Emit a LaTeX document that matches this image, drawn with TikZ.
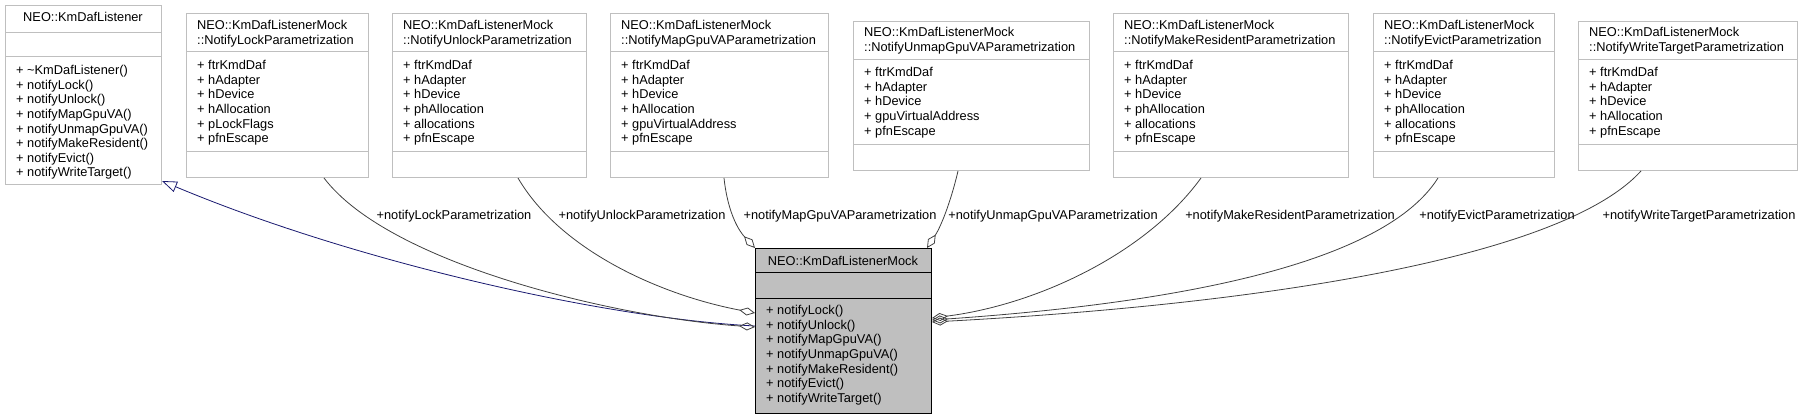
\documentclass[tikz,border=0pt]{standalone}
\usepackage{fontspec}
\setmainfont{Liberation Sans}
\usepackage{tikz}
\usetikzlibrary{arrows.meta}

\definecolor{boxgray}{HTML}{BFBFBF}
\definecolor{edgegray}{HTML}{404040}
\definecolor{inhblue}{HTML}{191970}

\begin{document}
\begin{tikzpicture}[x=1pt, y=-1pt,
    every node/.style={font=\fontsize{12.8}{14.6}\selectfont, inner sep=0pt},
    cls/.style={draw=boxgray, line width=1pt, fill=white, anchor=north west},
    mockcls/.style={draw=black, line width=1pt, fill=boxgray, anchor=north west},
    sepline/.style={boxgray, line width=1pt},
    txt/.style={anchor=north west, align=left},
    uses/.style={edgegray, line width=0.8pt, -{Diamond[open, length=16pt, width=8pt]}},
    inherit/.style={inhblue, line width=0.8pt, {Triangle[open, length=15pt, width=11pt]}-}]
    \useasboundingbox (0,0) rectangle (1805,419);

    % Base class
    \node[cls, minimum width=156, minimum height=179] (lsn) at (5,5) {};
    \draw[sepline] (5,33) -- (161,33);
    \draw[sepline] (5,57) -- (161,57);
    \node (lsntitle) at (83,17) {NEO::KmDafListener};
    \node[txt] (lsnops) at (16,65.3) {+ \textasciitilde KmDafListener()\\+ notifyLock()\\+ notifyUnlock()\\+ notifyMapGpuVA()\\+ notifyUnmapGpuVA()\\+ notifyMakeResident()\\+ notifyEvict()\\+ notifyWriteTarget()};

    % Parametrization structs
    \node[cls, minimum width=182, minimum height=164] (lock) at (186,13) {};
    \draw[sepline] (186,52) -- (368,52);
    \draw[sepline] (186,152) -- (368,152);
    \node[txt] (locktitle) at (197,20.3) {NEO::KmDafListenerMock\\::NotifyLockParametrization};
    \node[txt] (lockattr) at (197,60.3) {+ ftrKmdDaf\\+ hAdapter\\+ hDevice\\+ hAllocation\\+ pLockFlags\\+ pfnEscape};

    \node[cls, minimum width=194, minimum height=164] (unlock) at (392,13) {};
    \draw[sepline] (392,52) -- (586,52);
    \draw[sepline] (392,152) -- (586,152);
    \node[txt] (unlocktitle) at (403,20.3) {NEO::KmDafListenerMock\\::NotifyUnlockParametrization};
    \node[txt] (unlockattr) at (403,60.3) {+ ftrKmdDaf\\+ hAdapter\\+ hDevice\\+ phAllocation\\+ allocations\\+ pfnEscape};

    \node[cls, minimum width=218, minimum height=164] (mapva) at (610,13) {};
    \draw[sepline] (610,52) -- (828,52);
    \draw[sepline] (610,152) -- (828,152);
    \node[txt] (mapvatitle) at (621,20.3) {NEO::KmDafListenerMock\\::NotifyMapGpuVAParametrization};
    \node[txt] (mapvaattr) at (621,60.3) {+ ftrKmdDaf\\+ hAdapter\\+ hDevice\\+ hAllocation\\+ gpuVirtualAddress\\+ pfnEscape};

    \node[cls, minimum width=236, minimum height=149] (unmapva) at (853,21) {};
    \draw[sepline] (853,60) -- (1089,60);
    \draw[sepline] (853,145) -- (1089,145);
    \node[txt] (unmapvatitle) at (864,27.3) {NEO::KmDafListenerMock\\::NotifyUnmapGpuVAParametrization};
    \node[txt] (unmapvaattr) at (864,67.3) {+ ftrKmdDaf\\+ hAdapter\\+ hDevice\\+ gpuVirtualAddress\\+ pfnEscape};

    \node[cls, minimum width=235, minimum height=164] (makeres) at (1113,13) {};
    \draw[sepline] (1113,52) -- (1348,52);
    \draw[sepline] (1113,152) -- (1348,152);
    \node[txt] (makerestitle) at (1124,20.3) {NEO::KmDafListenerMock\\::NotifyMakeResidentParametrization};
    \node[txt] (makeresattr) at (1124,60.3) {+ ftrKmdDaf\\+ hAdapter\\+ hDevice\\+ phAllocation\\+ allocations\\+ pfnEscape};

    \node[cls, minimum width=181, minimum height=164] (evict) at (1373,13) {};
    \draw[sepline] (1373,52) -- (1554,52);
    \draw[sepline] (1373,152) -- (1554,152);
    \node[txt] (evicttitle) at (1384,20.3) {NEO::KmDafListenerMock\\::NotifyEvictParametrization};
    \node[txt] (evictattr) at (1384,60.3) {+ ftrKmdDaf\\+ hAdapter\\+ hDevice\\+ phAllocation\\+ allocations\\+ pfnEscape};

    \node[cls, minimum width=219, minimum height=149] (wrtarget) at (1578,21) {};
    \draw[sepline] (1578,60) -- (1797,60);
    \draw[sepline] (1578,145) -- (1797,145);
    \node[txt] (wrtargettitle) at (1589,27.3) {NEO::KmDafListenerMock\\::NotifyWriteTargetParametrization};
    \node[txt] (wrtargetattr) at (1589,67.3) {+ ftrKmdDaf\\+ hAdapter\\+ hDevice\\+ hAllocation\\+ pfnEscape};

    % Mock class
    \node[mockcls, minimum width=176, minimum height=165] (mock) at (755,248) {};
    \draw[line width=1pt] (755,273) -- (931,273);
    \draw[line width=1pt] (755,299) -- (931,299);
    \node (mocktitle) at (843,261) {NEO::KmDafListenerMock};
    \node[txt] (mockops) at (766,305.3) {+ notifyLock()\\+ notifyUnlock()\\+ notifyMapGpuVA()\\+ notifyUnmapGpuVA()\\+ notifyMakeResident()\\+ notifyEvict()\\+ notifyWriteTarget()};

    % Inheritance
    \draw[inherit] ([yshift=4pt]lsn.south east) .. controls (350,260) and (600,318) .. ([yshift=-78pt]mock.north west);

    % Members
    \draw[uses] ([xshift=138pt]lock.south west) .. controls (390,265) and (620,318) .. ([yshift=-79pt]mock.north west);
    \draw[uses] ([xshift=126pt]unlock.south west) .. controls (560,250) and (660,295) .. ([yshift=-65pt]mock.north west);
    \draw[uses] ([xshift=114pt]mapva.south west) .. controls (728,215) and (740,232) .. (mock.north west);
    \draw[uses] ([xshift=105pt]unmapva.south west) .. controls (950,205) and (940,228) .. ([xshift=-5pt]mock.north east);
    \draw[uses] ([xshift=88pt]makeres.south west) .. controls (1145,255) and (1035,305) .. ([yshift=-70pt]mock.north east);
    \draw[uses] ([xshift=65pt]evict.south west) .. controls (1380,270) and (1150,305) .. ([yshift=-72pt]mock.north east);
    \draw[uses] ([xshift=63pt]wrtarget.south west) .. controls (1560,260) and (1250,305) .. ([yshift=-74pt]mock.north east);

    % Labels
    \node (locklbl) at (454,216) {+notifyLockParametrization};
    \node (unlocklbl) at (642,216) {+notifyUnlockParametrization};
    \node (mapvalbl) at (840,216) {+notifyMapGpuVAParametrization};
    \node (unmapvalbl) at (1053,216) {+notifyUnmapGpuVAParametrization};
    \node (makereslbl) at (1290,216) {+notifyMakeResidentParametrization};
    \node (evictlbl) at (1497,216) {+notifyEvictParametrization};
    \node (wrtargetlbl) at (1699,216) {+notifyWriteTargetParametrization};
\end{tikzpicture}
\end{document}
